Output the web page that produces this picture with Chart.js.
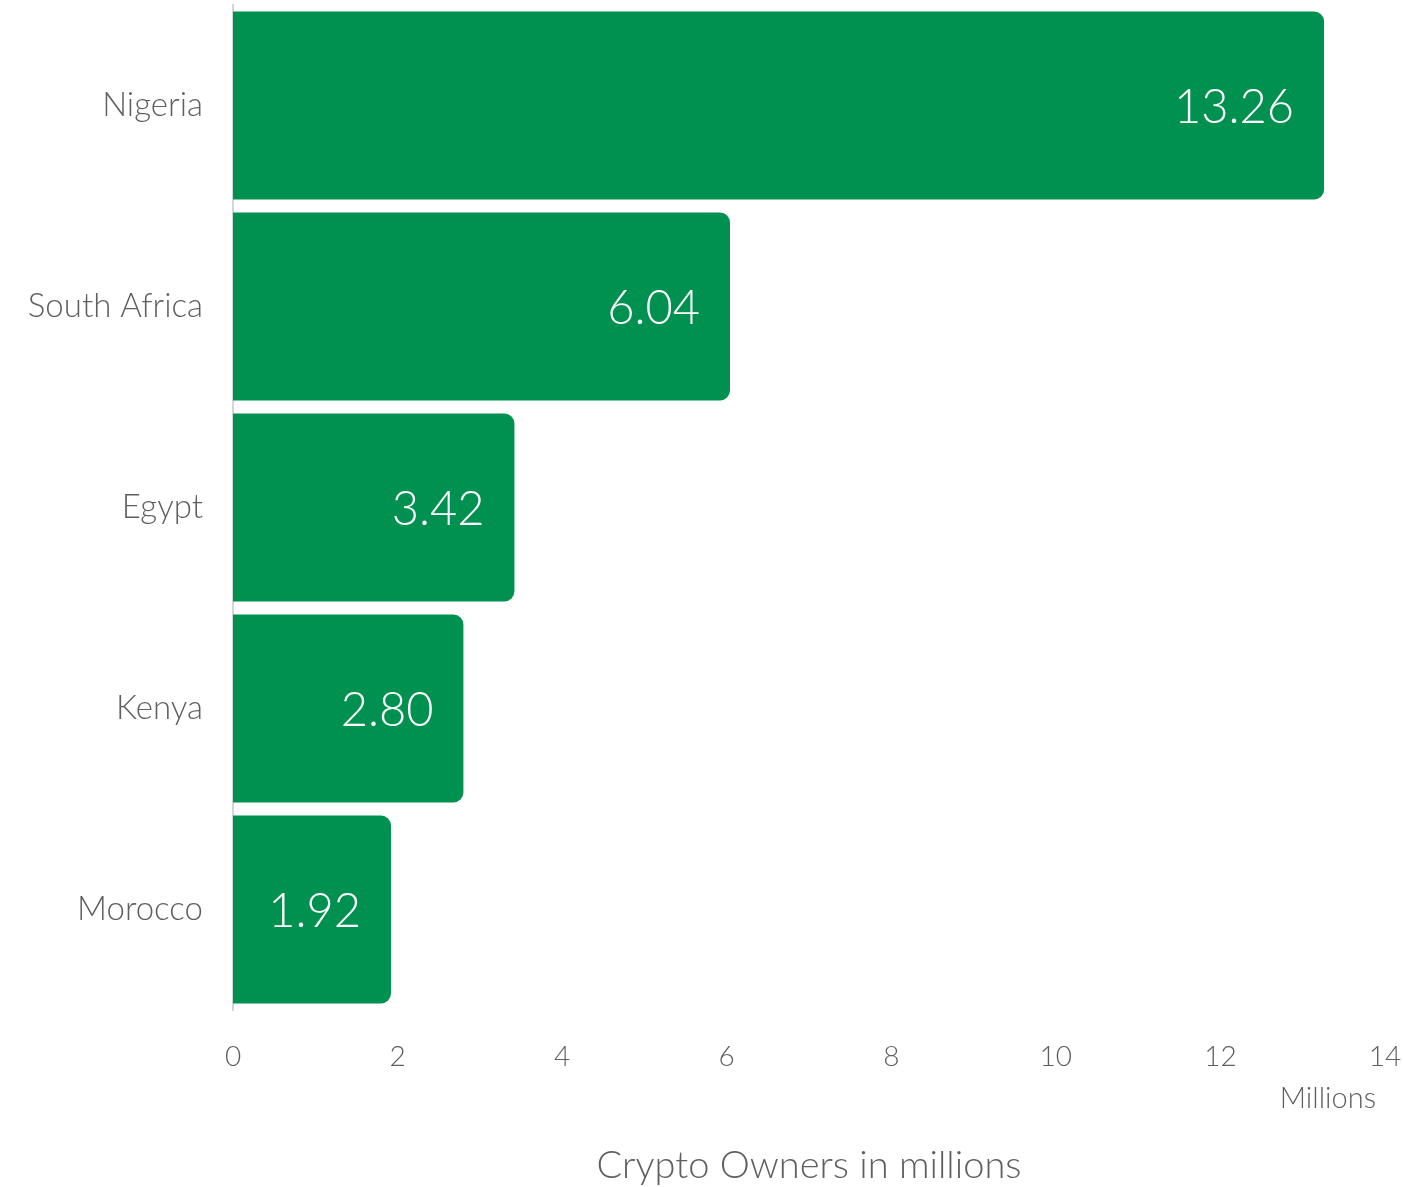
<!DOCTYPE html>
<html>
<head>
<meta charset="utf-8">
<style>
  html, body { margin: 0; padding: 0; background: #ffffff; }
  #wrap { width: 1403px; height: 1187px; position: relative; }
</style>
<script src="https://cdn.jsdelivr.net/npm/chart.js@4.4.1/dist/chart.umd.min.js"></script>
</head>
<body>
<div id="wrap"><canvas id="chart"></canvas></div>
<script>
// Crypto owners by country, in millions
const countries = ['Nigeria', 'South Africa', 'Egypt', 'Kenya', 'Morocco'];
const owners = [13.26, 6.04, 3.42, 2.80, 1.92];
const xTicks = [0, 2, 4, 6, 8, 10, 12, 14];
const unitLabel = 'Millions';
const axisTitle = 'Crypto Owners in millions';

const GREEN = '#009150';
const FONT = "'Lato Light', Lato, 'Open Sans', sans-serif";

// White value labels inside the end of each bar, plus the unit note and axis title
const annotate = {
  id: 'annotate',
  afterDatasetsDraw(chart) {
    const ctx = chart.ctx;
    const meta = chart.getDatasetMeta(0);
    ctx.save();
    ctx.fillStyle = '#ffffff';
    ctx.font = "300 47px " + FONT;
    ctx.textAlign = 'right';
    ctx.textBaseline = 'middle';
    meta.data.forEach((bar, i) => {
      ctx.fillText(owners[i].toFixed(2), bar.x - 30, bar.y + 2);
    });
    const area = chart.chartArea;
    ctx.fillStyle = '#5f5f5f';
    ctx.font = "300 29px " + FONT;
    ctx.textAlign = 'right';
    ctx.fillText(unitLabel, area.right - 9, 1099);
    ctx.font = "300 38px " + FONT;
    ctx.textAlign = 'center';
    ctx.fillText(axisTitle, (area.left + area.right) / 2, 1166);
    ctx.restore();
  }
};

new Chart(document.getElementById('chart'), {
  type: 'bar',
  data: {
    labels: countries,
    datasets: [{
      data: owners,
      backgroundColor: GREEN,
      borderRadius: { topLeft: 0, bottomLeft: 0, topRight: 10, bottomRight: 10 },
      borderSkipped: 'start',
      barPercentage: 0.935,
      categoryPercentage: 1.0
    }]
  },
  options: {
    indexAxis: 'y',
    responsive: true,
    maintainAspectRatio: false,
    animation: false,
    layout: { padding: { top: 5, right: 18, bottom: 0, left: 0 } },
    plugins: {
      legend: { display: false },
      tooltip: { enabled: false }
    },
    scales: {
      x: {
        min: 0,
        max: 14,
        afterBuildTicks(scale) { scale.ticks = xTicks.map(v => ({ value: v })); },
        afterFit(scale) {
          scale.height = 177;
          scale.paddingLeft = 0;
          scale.paddingRight = 0;
        },
        grid: { display: false, drawTicks: false },
        border: { display: false },
        ticks: {
          color: '#5f5f5f',
          font: { family: FONT, size: 28, weight: '300' },
          padding: 30,
          maxRotation: 0
        }
      },
      y: {
        afterFit(scale) {
          scale.width = 233;
          scale.paddingTop = 0;
          scale.paddingBottom = 0;
        },
        grid: { display: false, drawTicks: false },
        border: { display: true, color: '#d6d6d6', width: 2 },
        ticks: {
          color: '#5f5f5f',
          font: { family: FONT, size: 33, weight: '300' },
          padding: 30
        }
      }
    }
  },
  plugins: [annotate]
});
</script>
</body>
</html>
